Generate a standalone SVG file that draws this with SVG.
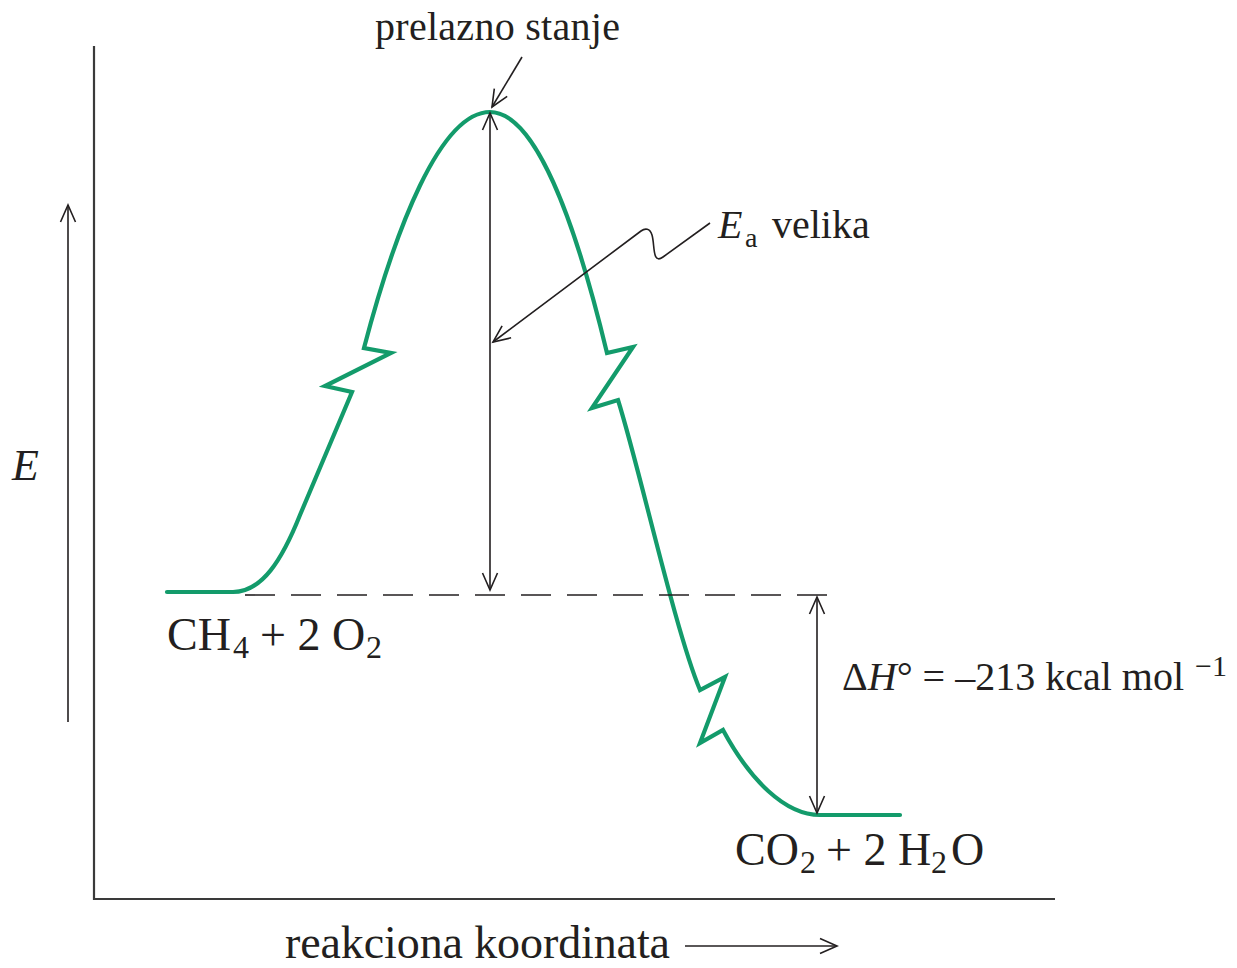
<svg xmlns="http://www.w3.org/2000/svg" width="1237" height="968" viewBox="0 0 1237 968">
<style>
text{font-family:'Liberation Serif','Times New Roman',Times,'DejaVu Serif',serif;fill:#231f20}
.ln{stroke:#231f20;stroke-width:1.6;fill:none}
.ax{stroke:#3a3a3a;stroke-width:2.2;fill:none}
.curve{stroke:#139b6b;stroke-width:4.2;fill:none;stroke-linejoin:miter;stroke-linecap:round}
</style>
<defs>
<marker id="arr" viewBox="-20 -12 24 24" markerUnits="userSpaceOnUse" markerWidth="24" markerHeight="24" refX="0" refY="0" orient="auto-start-reverse" overflow="visible">
<path d="M-17,-7.5 L0,0 L-17,7.5" fill="none" stroke="#231f20" stroke-width="1.6"/>
</marker>
</defs>
<g id="axes">
<path class="ax" d="M94,46 L94,899 L1055,899"/>
</g>
<g id="curve">
<path class="curve" d="M167,592 L233,592 C262,592 282,560 300,515 L352,392 L325,386 L391,353 L364,348 C395,230 440,112 490,112 C535,112 575,220 607,353 L633,347 L592,408 L618,400 C640,470 675,630 700,690 L725,677 L700,743 L723,730 C750,780 785,815 820,815 L900,815"/>
</g>
<g id="connectors">
<path class="ln" d="M68,722 L68,205" marker-end="url(#arr)"/>
<path class="ln" d="M685,946 L837,946" marker-end="url(#arr)"/>
<path class="ln" d="M245,595 L830,595" stroke-dasharray="30 16"/>
<path class="ln" d="M490,590 L490,113" marker-start="url(#arr)" marker-end="url(#arr)"/>
<path class="ln" d="M817,597 L817,813" marker-start="url(#arr)" marker-end="url(#arr)"/>
<path class="ln" d="M522,57 L492,107" marker-end="url(#arr)"/>
<path class="ln" d="M710,223 L663,257 C652,265 655,245 652,235 C650,228 645,228 641,231 L493,342" marker-end="url(#arr)"/>
</g>
<g id="label-prelazno">
<text x="375" y="40" font-size="40" font-family="Liberation Serif, serif" textLength="245">prelazno stanje</text>
</g>
<g id="label-E">
<text x="12" y="480" font-size="44" font-family="Liberation Serif, serif" font-style="italic">E</text>
</g>
<g id="label-Ea">
<text font-size="40" font-family="Liberation Serif, serif"><tspan x="718" y="238" font-style="italic">E</tspan><tspan x="745" y="247" font-size="28">a</tspan><tspan x="772" y="238">velika</tspan></text>
</g>
<g id="label-reactants">
<text font-size="46" font-family="Liberation Serif, serif"><tspan x="167" y="650">CH</tspan><tspan x="233" y="658" font-size="32">4</tspan><tspan x="260" y="650">+ 2 O</tspan><tspan x="366" y="658" font-size="32">2</tspan></text>
</g>
<g id="label-products">
<text font-size="46" font-family="Liberation Serif, serif"><tspan x="735" y="865">CO</tspan><tspan x="800" y="873" font-size="32">2</tspan><tspan x="826" y="865">+ 2 H</tspan><tspan x="931" y="873" font-size="32">2</tspan><tspan x="951" y="865">O</tspan></text>
</g>
<g id="label-dH">
<text x="842" y="690" font-size="40" font-family="Liberation Serif, serif">Δ<tspan font-style="italic">H</tspan>° = –213 kcal mol</text>
<text x="1195" y="676" font-size="30" font-family="Liberation Serif, serif">−1</text>
</g>
<g id="label-x">
<text x="285" y="958" font-size="46" font-family="Liberation Serif, serif" textLength="385">reakciona koordinata</text>
</g>
</svg>
